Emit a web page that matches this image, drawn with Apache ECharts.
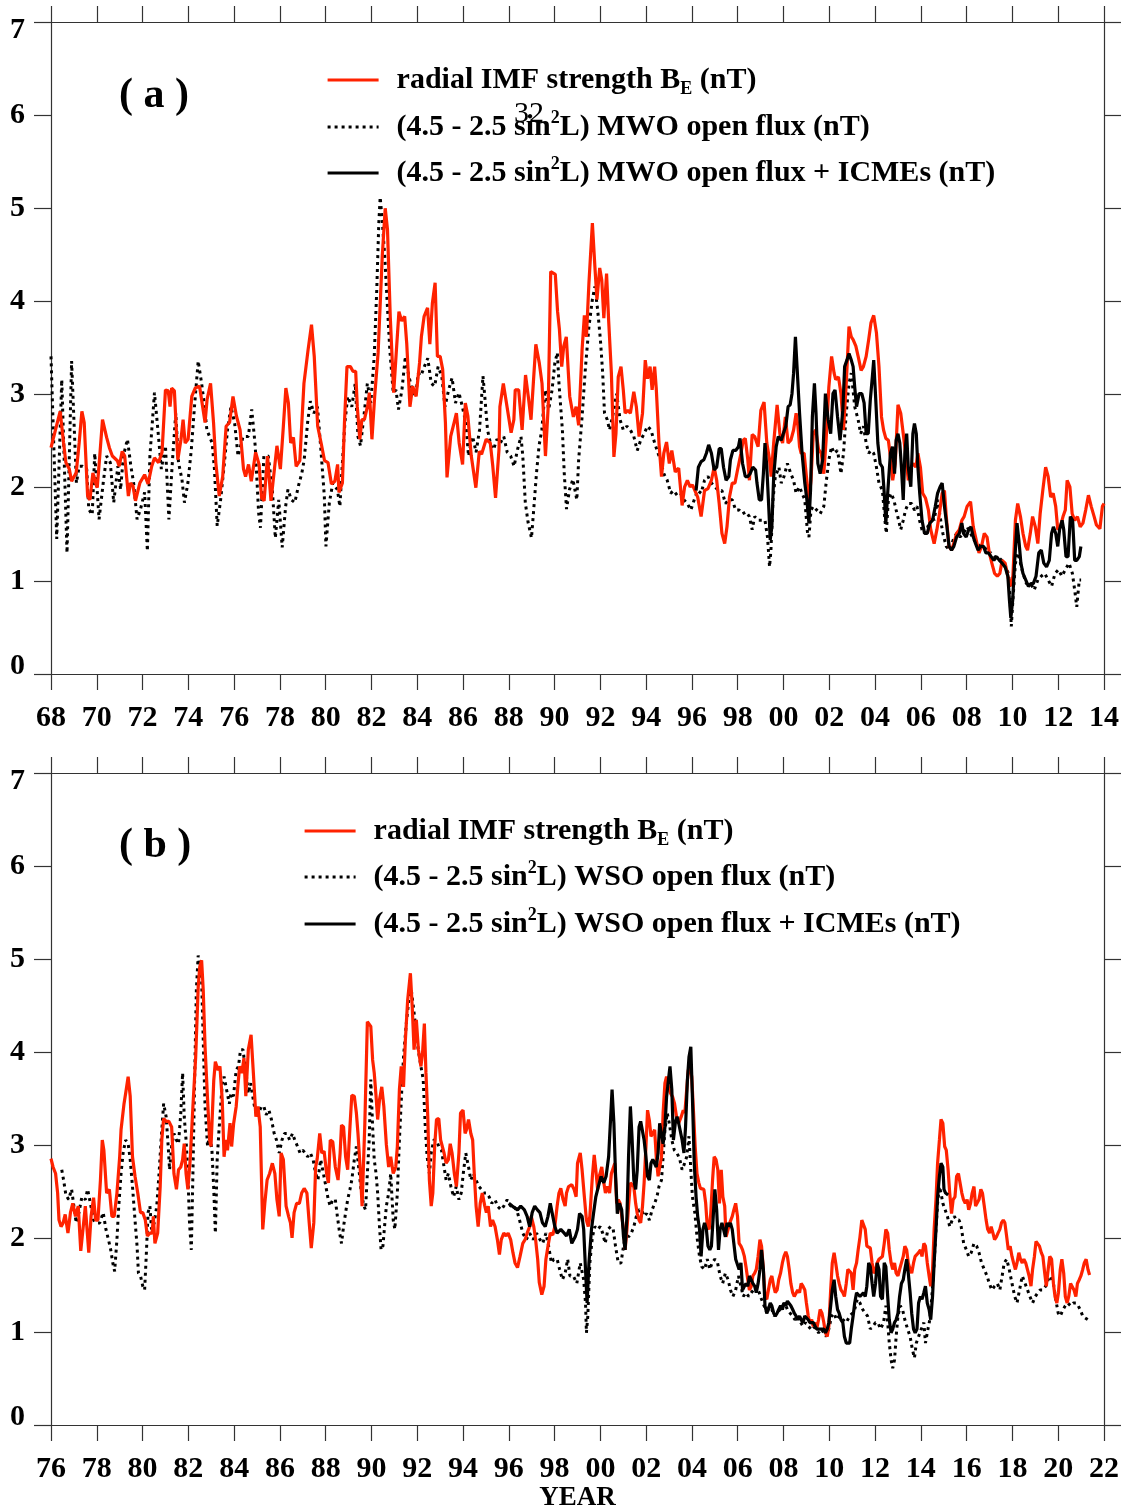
<!DOCTYPE html>
<html><head><meta charset="utf-8">
<script src="https://cdn.jsdelivr.net/npm/echarts@6/dist/echarts.min.js"></script>
<style>html,body{margin:0;padding:0;background:#fff}#c{width:1127px;height:1510px}</style>
</head><body><div id="c"></div>
<script>
// ---------- tick labels ----------
const yTickValues = [0, 1, 2, 3, 4, 5, 6, 7];
const xLabelsA = ['68','70','72','74','76','78','80','82','84','86','88','90','92','94','96','98','00','02','04','06','08','10','12','14'];
const xLabelsB = ['76','78','80','82','84','86','88','90','92','94','96','98','00','02','04','06','08','10','12','14','16','18','20','22'];

// ---------- series names ----------
const nameRed  = 'radial IMF strength BE (nT)';
const nameMwo  = '(4.5 - 2.5 sin2L) MWO open flux (nT)';
const nameMwoI = '(4.5 - 2.5 sin2L) MWO open flux + ICMEs (nT)';
const nameWso  = '(4.5 - 2.5 sin2L) WSO open flux (nT)';
const nameWsoI = '(4.5 - 2.5 sin2L) WSO open flux + ICMEs (nT)';

// ---------- panel (a) data: [year, nT] ----------
const aRed = [[1968.0,2.43],[1968.4,2.82],[1968.55,2.48],[1968.65,2.27],[1968.8,2.2],[1968.9,2.07],[1969.1,2.16],[1969.23,2.48],[1969.35,2.82],[1969.45,2.7],[1969.6,1.91],[1969.7,1.87],[1969.83,2.16],[1969.95,2.05],[1970.02,2.0],[1970.13,2.34],[1970.25,2.73],[1970.43,2.54],[1970.55,2.43],[1970.68,2.34],[1970.9,2.29],[1970.98,2.23],[1971.11,2.39],[1971.22,2.34],[1971.38,1.91],[1971.47,2.05],[1971.58,2.02],[1971.69,1.86],[1971.88,2.05],[1972.09,2.14],[1972.24,2.04],[1972.4,2.23],[1972.52,2.32],[1972.7,2.27],[1972.85,2.38],[1973.0,3.05],[1973.12,3.04],[1973.2,2.87],[1973.27,3.07],[1973.39,3.04],[1973.54,2.3],[1973.68,2.52],[1973.77,2.73],[1973.86,2.48],[1973.99,2.52],[1974.15,2.98],[1974.3,3.07],[1974.49,3.09],[1974.6,2.91],[1974.73,2.7],[1974.82,2.95],[1974.97,3.12],[1975.1,2.7],[1975.2,2.27],[1975.35,1.91],[1975.5,2.12],[1975.65,2.66],[1975.8,2.7],[1975.95,2.98],[1976.1,2.77],[1976.26,2.62],[1976.41,2.2],[1976.5,2.12],[1976.63,2.25],[1976.75,2.07],[1976.94,2.38],[1977.09,2.25],[1977.2,1.89],[1977.31,1.86],[1977.46,2.34],[1977.61,1.86],[1977.76,2.2],[1977.87,2.45],[1978.02,2.2],[1978.14,2.62],[1978.26,3.07],[1978.37,2.91],[1978.47,2.48],[1978.59,2.54],[1978.71,2.23],[1978.87,2.29],[1979.05,3.12],[1979.23,3.48],[1979.38,3.75],[1979.5,3.41],[1979.65,2.66],[1979.8,2.48],[1979.95,2.29],[1980.1,2.27],[1980.25,2.04],[1980.4,2.07],[1980.52,2.25],[1980.58,1.95],[1980.73,2.05],[1980.82,2.7],[1980.93,3.3],[1981.08,3.3],[1981.19,3.25],[1981.31,3.25],[1981.38,2.87],[1981.49,2.52],[1981.58,2.73],[1981.69,2.73],[1981.84,2.89],[1981.91,3.02],[1982.02,2.52],[1982.14,2.98],[1982.29,3.45],[1982.47,4.48],[1982.6,5.0],[1982.7,4.77],[1982.82,3.84],[1982.97,3.02],[1983.09,3.48],[1983.2,3.89],[1983.32,3.79],[1983.45,3.84],[1983.54,3.55],[1983.68,2.87],[1983.8,3.09],[1983.95,2.98],[1984.1,3.34],[1984.18,3.62],[1984.3,3.84],[1984.45,3.93],[1984.55,3.54],[1984.66,3.98],[1984.78,4.2],[1984.88,3.41],[1985.0,3.41],[1985.11,3.27],[1985.23,2.7],[1985.3,2.11],[1985.46,2.55],[1985.61,2.7],[1985.71,2.8],[1985.83,2.48],[1985.98,2.25],[1986.1,2.91],[1986.21,2.77],[1986.36,2.34],[1986.56,2.0],[1986.71,2.39],[1986.81,2.36],[1987.01,2.52],[1987.19,2.48],[1987.3,2.23],[1987.42,1.89],[1987.57,2.41],[1987.61,2.87],[1987.76,3.12],[1987.87,2.95],[1987.94,2.95],[1988.1,2.59],[1988.22,2.73],[1988.28,3.05],[1988.43,3.05],[1988.58,2.62],[1988.73,3.21],[1988.85,2.98],[1988.97,2.73],[1989.08,3.16],[1989.18,3.54],[1989.33,3.34],[1989.45,3.12],[1989.6,2.34],[1989.72,2.87],[1989.83,4.32],[1990.03,4.29],[1990.13,3.89],[1990.21,3.7],[1990.31,3.3],[1990.4,3.52],[1990.51,3.62],[1990.66,2.98],[1990.82,2.76],[1990.94,2.87],[1991.05,2.67],[1991.2,3.48],[1991.3,3.85],[1991.39,3.62],[1991.5,4.2],[1991.65,4.84],[1991.76,4.37],[1991.85,4.02],[1991.97,4.36],[1992.06,4.23],[1992.15,3.82],[1992.27,4.3],[1992.36,3.8],[1992.48,3.23],[1992.59,2.33],[1992.68,2.58],[1992.78,3.19],[1992.9,3.3],[1993.0,3.05],[1993.08,2.8],[1993.2,2.83],[1993.31,2.8],[1993.46,3.03],[1993.57,2.87],[1993.69,2.55],[1993.84,2.8],[1993.96,3.37],[1994.06,3.17],[1994.17,3.3],[1994.26,3.05],[1994.37,3.3],[1994.44,3.07],[1994.56,2.48],[1994.67,2.12],[1994.77,2.37],[1994.89,2.49],[1995.01,2.26],[1995.12,2.4],[1995.27,2.17],[1995.42,2.21],[1995.57,1.81],[1995.68,2.01],[1995.8,2.08],[1995.92,2.01],[1996.02,2.03],[1996.13,1.97],[1996.25,1.9],[1996.4,1.69],[1996.55,1.97],[1996.7,1.99],[1996.85,2.08],[1996.97,2.22],[1997.08,2.08],[1997.19,1.83],[1997.31,1.51],[1997.43,1.4],[1997.53,1.58],[1997.64,1.9],[1997.76,2.05],[1997.88,2.05],[1997.99,2.19],[1998.14,2.37],[1998.24,2.51],[1998.33,2.53],[1998.44,2.3],[1998.51,2.08],[1998.63,2.57],[1998.74,2.55],[1998.89,2.44],[1999.01,2.83],[1999.15,2.92],[1999.27,2.48],[1999.39,2.3],[1999.46,2.12],[1999.57,2.48],[1999.72,2.89],[1999.84,2.58],[1999.96,2.48],[2000.08,2.76],[2000.2,2.48],[2000.32,2.51],[2000.44,2.62],[2000.55,2.8],[2000.63,2.66],[2000.7,2.44],[2000.77,2.37],[2000.9,2.37],[2001.0,2.12],[2001.11,1.87],[2001.2,2.08],[2001.3,2.58],[2001.41,2.62],[2001.53,2.41],[2001.65,2.37],[2001.76,2.15],[2001.86,2.51],[2001.98,3.08],[2002.1,3.41],[2002.21,3.23],[2002.28,3.16],[2002.4,3.19],[2002.51,3.01],[2002.62,2.62],[2002.74,3.12],[2002.86,3.73],[2002.96,3.62],[2003.04,3.59],[2003.16,3.52],[2003.26,3.41],[2003.39,3.26],[2003.49,3.3],[2003.61,3.41],[2003.72,3.59],[2003.82,3.77],[2003.94,3.85],[2004.06,3.66],[2004.17,3.3],[2004.28,2.76],[2004.37,2.62],[2004.47,2.53],[2004.58,2.51],[2004.67,2.33],[2004.77,2.08],[2004.88,2.26],[2005.0,2.89],[2005.12,2.8],[2005.23,2.58],[2005.33,2.37],[2005.45,2.08],[2005.57,2.22],[2005.68,2.26],[2005.78,2.22],[2005.87,2.37],[2005.98,2.22],[2006.08,1.94],[2006.2,1.89],[2006.33,1.76],[2006.43,1.55],[2006.58,1.4],[2006.7,1.55],[2006.81,1.72],[2006.93,1.94],[2007.03,1.97],[2007.11,1.69],[2007.23,1.37],[2007.34,1.33],[2007.44,1.4],[2007.56,1.51],[2007.68,1.55],[2007.79,1.65],[2007.89,1.69],[2008.02,1.8],[2008.17,1.85],[2008.29,1.58],[2008.39,1.47],[2008.54,1.3],[2008.65,1.37],[2008.77,1.51],[2008.89,1.47],[2008.99,1.3],[2009.1,1.19],[2009.22,1.08],[2009.34,1.05],[2009.45,1.08],[2009.55,1.22],[2009.68,1.19],[2009.8,1.05],[2009.9,0.94],[2010.02,1.05],[2010.13,1.65],[2010.23,1.83],[2010.35,1.69],[2010.46,1.51],[2010.58,1.37],[2010.66,1.33],[2010.78,1.51],[2010.88,1.69],[2011.0,1.58],[2011.11,1.4],[2011.21,1.72],[2011.33,1.98],[2011.45,2.22],[2011.56,2.12],[2011.67,1.9],[2011.78,1.94],[2011.89,1.8],[2011.98,1.55],[2012.09,1.58],[2012.21,1.69],[2012.31,1.76],[2012.39,2.08],[2012.51,2.01],[2012.61,1.72],[2012.72,1.65],[2012.84,1.69],[2012.96,1.58],[2013.08,1.62],[2013.2,1.76],[2013.32,1.92],[2013.44,1.8],[2013.57,1.69],[2013.67,1.6],[2013.82,1.56],[2013.93,1.8],[2014.0,1.83]];

const aMwo = [[1968.0,3.41],[1968.25,1.45],[1968.47,3.16],[1968.7,1.3],[1968.9,3.36],[1969.11,2.05],[1969.23,2.23],[1969.38,2.23],[1969.56,2.2],[1969.65,1.77],[1969.8,1.71],[1969.91,2.37],[1970.1,1.66],[1970.28,2.05],[1970.43,2.34],[1970.59,2.27],[1970.74,1.84],[1970.92,2.23],[1971.04,1.98],[1971.16,2.34],[1971.34,2.52],[1971.49,2.23],[1971.61,2.05],[1971.76,1.66],[1971.91,1.77],[1972.09,1.95],[1972.21,1.32],[1972.32,2.34],[1972.52,3.02],[1972.67,2.62],[1972.82,2.2],[1973.0,2.45],[1973.15,1.66],[1973.3,2.27],[1973.45,2.8],[1973.57,2.27],[1973.72,2.09],[1973.83,1.84],[1973.98,2.05],[1974.13,2.41],[1974.28,2.91],[1974.43,3.36],[1974.58,3.12],[1974.69,2.91],[1974.81,2.62],[1975.04,2.48],[1975.14,2.2],[1975.26,1.59],[1975.41,1.87],[1975.56,2.23],[1975.71,2.62],[1975.86,2.87],[1976.02,2.7],[1976.17,2.34],[1976.39,2.55],[1976.62,2.55],[1976.77,2.84],[1976.92,2.45],[1977.07,1.73],[1977.15,1.57],[1977.3,2.34],[1977.49,2.34],[1977.67,1.98],[1977.8,1.46],[1977.95,1.87],[1978.1,1.36],[1978.25,1.8],[1978.35,1.98],[1978.5,1.87],[1978.65,1.84],[1978.81,2.02],[1978.96,2.16],[1979.06,2.3],[1979.21,2.7],[1979.33,2.93],[1979.48,2.8],[1979.64,2.87],[1979.79,2.41],[1979.94,1.91],[1980.01,1.37],[1980.16,1.84],[1980.31,2.05],[1980.51,1.98],[1980.62,1.8],[1980.72,2.23],[1980.84,2.7],[1980.96,2.98],[1981.14,2.87],[1981.29,3.12],[1981.41,2.55],[1981.52,2.45],[1981.67,2.77],[1981.82,3.12],[1981.97,2.91],[1982.12,3.41],[1982.23,4.12],[1982.32,4.84],[1982.38,5.12],[1982.47,4.87],[1982.58,4.48],[1982.68,4.02],[1982.8,3.48],[1982.95,3.02],[1983.07,3.05],[1983.18,2.84],[1983.33,3.05],[1983.48,3.41],[1983.63,3.2],[1983.78,3.05],[1983.93,2.98],[1984.04,3.23],[1984.16,3.2],[1984.31,3.3],[1984.46,3.39],[1984.61,3.12],[1984.76,3.09],[1984.91,3.3],[1985.07,3.2],[1985.21,2.87],[1985.37,3.05],[1985.52,3.18],[1985.67,2.91],[1985.82,3.02],[1985.97,2.87],[1986.12,2.7],[1986.24,2.34],[1986.35,2.48],[1986.42,2.55],[1986.57,2.38],[1986.72,2.62],[1986.87,3.2],[1986.95,2.98],[1987.07,2.62],[1987.22,2.45],[1987.33,2.41],[1987.48,2.52],[1987.63,2.48],[1987.78,2.55],[1987.93,2.38],[1988.08,2.34],[1988.23,2.23],[1988.38,2.41],[1988.53,2.55],[1988.61,2.34],[1988.72,1.84],[1988.84,1.63],[1988.99,1.46],[1989.11,1.84],[1989.21,2.16],[1989.32,2.45],[1989.44,2.62],[1989.59,3.05],[1989.74,2.84],[1989.89,3.05],[1990.01,3.34],[1990.12,3.45],[1990.19,3.12],[1990.34,2.62],[1990.42,2.16],[1990.52,1.77],[1990.65,1.98],[1990.8,2.09],[1990.97,1.87],[1991.05,2.3],[1991.2,2.76],[1991.35,3.3],[1991.5,3.73],[1991.65,4.02],[1991.76,4.16],[1991.88,3.91],[1992.0,3.59],[1992.1,3.23],[1992.18,2.8],[1992.3,2.73],[1992.4,2.62],[1992.56,2.8],[1992.71,3.01],[1992.86,2.73],[1993.0,2.62],[1993.16,2.66],[1993.31,2.62],[1993.46,2.55],[1993.61,2.4],[1993.76,2.51],[1993.91,2.58],[1994.06,2.66],[1994.21,2.62],[1994.37,2.48],[1994.52,2.37],[1994.62,2.3],[1994.77,2.15],[1994.92,2.08],[1995.07,1.94],[1995.2,1.97],[1995.35,1.92],[1995.5,1.94],[1995.65,1.87],[1995.8,1.83],[1995.95,1.76],[1996.1,1.87],[1996.25,1.97],[1996.4,1.94],[1996.55,2.08],[1996.7,2.12],[1996.85,2.05],[1997.0,2.01],[1997.16,1.97],[1997.31,1.97],[1997.46,1.83],[1997.61,1.87],[1997.76,1.87],[1997.91,1.76],[1998.06,1.76],[1998.21,1.72],[1998.36,1.74],[1998.51,1.69],[1998.63,1.55],[1998.74,1.69],[1998.89,1.65],[1999.04,1.65],[1999.19,1.65],[1999.3,1.47],[1999.39,1.15],[1999.45,1.33],[1999.54,1.87],[1999.64,2.12],[1999.8,2.22],[1999.9,2.05],[2000.02,2.12],[2000.17,2.26],[2000.32,2.15],[2000.44,2.08],[2000.55,1.94],[2000.7,2.01],[2000.81,1.94],[2000.93,1.87],[2001.05,1.51],[2001.11,1.47],[2001.2,1.76],[2001.3,1.8],[2001.45,1.76],[2001.6,1.72],[2001.76,1.8],[2001.86,2.05],[2001.98,2.3],[2002.1,2.44],[2002.21,2.37],[2002.36,2.4],[2002.51,2.15],[2002.62,2.37],[2002.74,2.8],[2002.86,3.12],[2002.96,3.23],[2003.11,2.87],[2003.26,2.73],[2003.37,2.58],[2003.49,2.66],[2003.61,2.48],[2003.72,2.37],[2003.82,2.4],[2003.94,2.37],[2004.06,2.22],[2004.17,2.05],[2004.32,1.97],[2004.43,1.65],[2004.49,1.51],[2004.58,1.87],[2004.7,1.94],[2004.82,1.87],[2004.92,1.76],[2005.03,1.65],[2005.12,1.55],[2005.23,1.65],[2005.33,1.76],[2005.45,1.83],[2005.6,1.83],[2005.72,1.76],[2005.83,1.8],[2005.94,1.65],[2006.05,1.55],[2006.2,1.51],[2006.36,1.62],[2006.48,1.69],[2006.58,1.65],[2006.73,1.87],[2006.84,1.69],[2006.96,1.51],[2007.11,1.37],[2007.26,1.33],[2007.41,1.44],[2007.56,1.51],[2007.71,1.47],[2007.86,1.51],[2008.02,1.58],[2008.17,1.51],[2008.32,1.44],[2008.47,1.4],[2008.62,1.37],[2008.77,1.37],[2008.92,1.3],[2009.07,1.3],[2009.22,1.26],[2009.37,1.26],[2009.53,1.22],[2009.68,1.15],[2009.83,1.08],[2009.9,0.79],[2009.95,0.51],[2010.02,0.79],[2010.13,1.19],[2010.24,1.3],[2010.35,1.19],[2010.46,1.08],[2010.61,0.97],[2010.8,0.97],[2010.95,0.9],[2011.11,1.01],[2011.26,1.05],[2011.41,1.08],[2011.56,1.01],[2011.71,0.94],[2011.86,1.08],[2012.01,1.12],[2012.16,1.05],[2012.31,1.12],[2012.47,1.19],[2012.62,1.08],[2012.72,0.9],[2012.81,0.72],[2012.92,1.01],[2013.0,1.01]];

const aMwoI = [[1996.18,1.97],[1996.28,2.22],[1996.4,2.28],[1996.52,2.3],[1996.63,2.37],[1996.73,2.46],[1996.85,2.37],[1996.97,2.19],[1997.08,2.22],[1997.19,2.42],[1997.28,2.42],[1997.38,2.22],[1997.49,2.08],[1997.61,2.12],[1997.68,2.3],[1997.79,2.4],[1997.91,2.4],[1998.03,2.44],[1998.1,2.53],[1998.21,2.26],[1998.33,2.12],[1998.44,2.12],[1998.54,2.15],[1998.66,2.22],[1998.78,2.19],[1998.84,2.05],[1998.94,1.87],[1999.04,1.87],[1999.12,2.15],[1999.19,2.48],[1999.27,2.22],[1999.34,1.87],[1999.42,1.44],[1999.49,1.58],[1999.57,2.12],[1999.68,2.44],[1999.77,2.55],[1999.9,2.51],[1999.99,2.58],[2000.1,2.66],[2000.2,2.87],[2000.29,2.89],[2000.37,3.01],[2000.44,3.23],[2000.52,3.62],[2000.59,3.3],[2000.7,2.8],[2000.81,2.37],[2000.93,2.05],[2001.02,1.87],[2001.11,1.62],[2001.18,1.97],[2001.26,2.76],[2001.35,3.12],[2001.42,2.8],[2001.5,2.26],[2001.6,2.15],[2001.71,2.3],[2001.83,3.01],[2001.95,2.73],[2002.06,2.58],[2002.16,3.01],[2002.25,3.05],[2002.36,2.76],[2002.47,2.51],[2002.59,2.83],[2002.67,3.3],[2002.77,3.37],[2002.86,3.44],[2002.96,3.37],[2003.04,3.3],[2003.11,3.08],[2003.19,2.87],[2003.3,3.01],[2003.42,3.01],[2003.52,2.91],[2003.61,2.58],[2003.7,2.58],[2003.79,2.94],[2003.88,3.19],[2003.94,3.37],[2004.03,2.94],[2004.12,2.48],[2004.22,2.26],[2004.32,2.22],[2004.4,1.94],[2004.47,1.62],[2004.55,1.94],[2004.67,2.37],[2004.76,2.44],[2004.85,2.15],[2004.92,2.51],[2005.0,2.58],[2005.08,2.48],[2005.15,2.22],[2005.23,1.87],[2005.3,2.37],[2005.38,2.58],[2005.45,2.22],[2005.56,2.01],[2005.65,2.58],[2005.72,2.69],[2005.8,2.58],[2005.87,2.22],[2005.95,1.94],[2006.05,1.65],[2006.16,1.51],[2006.28,1.51],[2006.39,1.62],[2006.51,1.65],[2006.63,1.8],[2006.73,1.94],[2006.84,2.01],[2006.93,2.05],[2007.03,1.8],[2007.14,1.58],[2007.23,1.37],[2007.34,1.33],[2007.44,1.37],[2007.56,1.47],[2007.68,1.51],[2007.79,1.62],[2007.86,1.51],[2007.98,1.47],[2008.09,1.55],[2008.19,1.58],[2008.29,1.47],[2008.39,1.4],[2008.5,1.33],[2008.62,1.37],[2008.74,1.37],[2008.84,1.3],[2008.95,1.3],[2009.07,1.26],[2009.19,1.22],[2009.31,1.26],[2009.43,1.22],[2009.55,1.19],[2009.68,1.15],[2009.8,1.05],[2009.87,0.79],[2009.93,0.6],[2010.01,0.79],[2010.1,1.22],[2010.2,1.62],[2010.28,1.44],[2010.37,1.19],[2010.46,1.08],[2010.58,1.01],[2010.7,0.94],[2010.8,0.97],[2010.91,0.97],[2011.03,1.05],[2011.15,1.3],[2011.26,1.33],[2011.37,1.19],[2011.49,1.15],[2011.61,1.22],[2011.71,1.51],[2011.79,1.58],[2011.89,1.51],[2011.98,1.37],[2012.06,1.55],[2012.17,1.65],[2012.24,1.55],[2012.34,1.26],[2012.43,1.26],[2012.53,1.69],[2012.63,1.65],[2012.72,1.22],[2012.81,1.22],[2012.92,1.26],[2012.99,1.37]];

// ---------- panel (b) data: [year, nT] ----------
const bRed = [[1976.0,2.86],[1976.09,2.77],[1976.2,2.7],[1976.29,2.49],[1976.35,2.2],[1976.44,2.13],[1976.53,2.17],[1976.62,2.26],[1976.74,2.06],[1976.85,2.28],[1976.95,2.38],[1977.07,2.24],[1977.19,2.35],[1977.3,1.87],[1977.37,1.87],[1977.5,2.35],[1977.57,2.35],[1977.65,1.85],[1977.75,2.24],[1977.86,2.44],[1977.95,2.2],[1978.05,2.2],[1978.16,2.63],[1978.24,3.06],[1978.31,2.95],[1978.43,2.49],[1978.55,2.53],[1978.66,2.24],[1978.76,2.24],[1978.88,2.49],[1979.0,2.88],[1979.06,3.17],[1979.19,3.45],[1979.26,3.56],[1979.37,3.74],[1979.46,3.53],[1979.56,2.88],[1979.67,2.67],[1979.79,2.49],[1979.91,2.28],[1980.01,2.28],[1980.12,2.2],[1980.21,2.03],[1980.32,2.06],[1980.42,2.06],[1980.47,2.24],[1980.54,1.95],[1980.66,2.06],[1980.77,2.56],[1980.84,3.06],[1980.92,3.29],[1981.03,3.26],[1981.15,3.26],[1981.27,3.2],[1981.37,2.7],[1981.48,2.53],[1981.57,2.74],[1981.67,2.77],[1981.75,2.85],[1981.82,3.02],[1981.9,2.7],[1981.98,2.53],[1982.08,2.85],[1982.2,3.42],[1982.32,3.95],[1982.43,4.7],[1982.5,4.92],[1982.58,4.99],[1982.65,4.67],[1982.73,4.06],[1982.84,3.49],[1982.93,3.06],[1982.99,2.99],[1983.11,3.7],[1983.18,3.9],[1983.29,3.81],[1983.38,3.85],[1983.48,3.49],[1983.56,2.88],[1983.64,3.06],[1983.71,2.95],[1983.82,3.24],[1983.89,2.99],[1983.98,3.24],[1984.09,3.42],[1984.16,3.63],[1984.24,3.85],[1984.34,3.78],[1984.43,3.94],[1984.51,3.53],[1984.62,4.03],[1984.74,4.19],[1984.84,3.78],[1984.95,3.31],[1985.04,3.42],[1985.14,3.2],[1985.25,2.1],[1985.34,2.38],[1985.44,2.63],[1985.55,2.7],[1985.67,2.81],[1985.78,2.7],[1985.87,2.42],[1985.97,2.24],[1986.05,2.92],[1986.15,2.85],[1986.27,2.35],[1986.38,2.24],[1986.46,2.17],[1986.53,2.01],[1986.62,2.28],[1986.73,2.38],[1986.85,2.38],[1986.95,2.49],[1987.06,2.54],[1987.18,2.49],[1987.28,2.17],[1987.37,1.9],[1987.48,2.17],[1987.56,2.77],[1987.63,2.86],[1987.74,3.13],[1987.83,2.92],[1987.93,2.94],[1988.04,2.7],[1988.12,2.6],[1988.2,3.06],[1988.31,3.04],[1988.42,2.77],[1988.54,2.63],[1988.63,2.92],[1988.69,3.22],[1988.78,3.2],[1988.87,2.88],[1988.96,2.74],[1989.06,3.2],[1989.14,3.54],[1989.25,3.53],[1989.34,3.35],[1989.41,3.13],[1989.52,2.7],[1989.59,2.35],[1989.71,3.24],[1989.82,4.33],[1989.97,4.28],[1990.05,3.92],[1990.12,3.78],[1990.2,3.53],[1990.27,3.28],[1990.35,3.49],[1990.45,3.63],[1990.54,3.42],[1990.65,3.01],[1990.75,2.77],[1990.84,2.88],[1990.95,2.7],[1991.06,2.77],[1991.13,2.99],[1991.22,3.6],[1991.3,3.85],[1991.4,3.63],[1991.48,4.13],[1991.58,4.56],[1991.7,4.85],[1991.78,4.49],[1991.86,4.03],[1991.96,4.35],[1992.05,4.03],[1992.16,3.85],[1992.23,3.99],[1992.31,4.31],[1992.38,3.78],[1992.46,3.31],[1992.53,2.63],[1992.61,2.35],[1992.68,2.49],[1992.76,2.99],[1992.84,3.28],[1992.94,3.29],[1993.02,3.06],[1993.09,3.06],[1993.17,2.92],[1993.26,2.81],[1993.36,2.85],[1993.44,3.02],[1993.52,2.92],[1993.62,2.7],[1993.71,2.56],[1993.82,2.92],[1993.89,3.35],[1994.0,3.38],[1994.09,3.13],[1994.15,3.17],[1994.24,3.28],[1994.34,3.13],[1994.42,3.06],[1994.49,2.7],[1994.57,2.35],[1994.66,2.13],[1994.75,2.38],[1994.84,2.49],[1994.95,2.35],[1995.02,2.28],[1995.1,2.35],[1995.2,2.13],[1995.29,2.2],[1995.4,2.13],[1995.5,1.99],[1995.59,1.83],[1995.67,1.99],[1995.78,2.06],[1995.88,2.03],[1995.97,2.06],[1996.08,1.99],[1996.18,1.85],[1996.27,1.74],[1996.38,1.69],[1996.49,1.81],[1996.61,1.95],[1996.71,1.99],[1996.8,2.06],[1996.91,2.13],[1996.98,2.24],[1997.09,2.13],[1997.17,1.99],[1997.26,1.78],[1997.33,1.53],[1997.44,1.4],[1997.54,1.49],[1997.62,1.78],[1997.71,1.92],[1997.81,2.06],[1997.92,2.04],[1998.01,2.13],[1998.11,2.35],[1998.19,2.49],[1998.27,2.54],[1998.37,2.42],[1998.46,2.35],[1998.52,2.49],[1998.61,2.56],[1998.75,2.58],[1998.85,2.53],[1998.94,2.45],[1999.0,2.81],[1999.12,2.92],[1999.2,2.74],[1999.3,2.45],[1999.39,2.2],[1999.47,2.13],[1999.54,2.24],[1999.65,2.67],[1999.73,2.9],[1999.8,2.74],[1999.88,2.53],[1999.95,2.67],[2000.06,2.77],[2000.15,2.6],[2000.22,2.49],[2000.3,2.56],[2000.4,2.49],[2000.48,2.7],[2000.56,2.7],[2000.63,2.81],[2000.71,2.38],[2000.78,2.42],[2000.86,2.38],[2000.93,2.38],[2001.01,2.1],[2001.08,1.88],[2001.16,2.1],[2001.23,2.35],[2001.31,2.6],[2001.38,2.61],[2001.46,2.56],[2001.54,2.38],[2001.61,2.27],[2001.69,2.2],[2001.76,2.17],[2001.84,2.35],[2001.91,2.6],[2001.99,2.99],[2002.06,3.38],[2002.14,3.27],[2002.21,3.1],[2002.29,3.13],[2002.37,3.17],[2002.44,2.88],[2002.52,2.67],[2002.59,2.67],[2002.67,2.88],[2002.74,3.35],[2002.82,3.67],[2002.89,3.74],[2002.97,3.63],[2003.07,3.56],[2003.16,3.52],[2003.24,3.45],[2003.35,3.27],[2003.42,3.24],[2003.53,3.31],[2003.62,3.38],[2003.69,3.35],[2003.77,3.6],[2003.84,3.81],[2003.92,3.85],[2003.99,3.74],[2004.07,3.35],[2004.14,2.99],[2004.22,2.7],[2004.3,2.6],[2004.37,2.54],[2004.45,2.53],[2004.52,2.53],[2004.6,2.38],[2004.67,2.13],[2004.75,2.1],[2004.82,2.27],[2004.9,2.63],[2004.97,2.88],[2005.05,2.85],[2005.13,2.74],[2005.2,2.38],[2005.28,2.74],[2005.35,2.45],[2005.43,2.35],[2005.49,2.02],[2005.58,2.1],[2005.65,2.17],[2005.76,2.24],[2005.83,2.31],[2005.91,2.38],[2005.99,2.24],[2006.06,1.95],[2006.14,1.92],[2006.21,1.88],[2006.29,1.81],[2006.36,1.7],[2006.44,1.56],[2006.51,1.45],[2006.59,1.49],[2006.66,1.6],[2006.74,1.63],[2006.81,1.67],[2006.89,1.81],[2006.97,1.99],[2007.04,1.92],[2007.12,1.67],[2007.19,1.38],[2007.27,1.35],[2007.34,1.45],[2007.42,1.56],[2007.49,1.6],[2007.57,1.49],[2007.64,1.42],[2007.72,1.45],[2007.79,1.56],[2007.87,1.63],[2007.95,1.74],[2008.02,1.81],[2008.1,1.86],[2008.17,1.81],[2008.25,1.67],[2008.32,1.52],[2008.4,1.42],[2008.47,1.38],[2008.55,1.38],[2008.62,1.45],[2008.7,1.42],[2008.77,1.52],[2008.85,1.49],[2008.93,1.45],[2009.0,1.31],[2009.08,1.17],[2009.15,1.1],[2009.23,1.13],[2009.3,1.06],[2009.38,1.1],[2009.45,1.03],[2009.53,1.13],[2009.6,1.24],[2009.68,1.2],[2009.76,1.1],[2009.83,0.99],[2009.91,0.95],[2009.98,1.06],[2010.06,1.45],[2010.13,1.74],[2010.21,1.85],[2010.28,1.74],[2010.36,1.6],[2010.43,1.52],[2010.51,1.45],[2010.59,1.42],[2010.66,1.38],[2010.74,1.52],[2010.81,1.67],[2010.89,1.67],[2010.96,1.63],[2011.04,1.45],[2011.11,1.67],[2011.19,1.74],[2011.26,1.88],[2011.34,2.02],[2011.42,2.2],[2011.49,2.22],[2011.57,2.1],[2011.64,1.92],[2011.72,1.92],[2011.79,1.9],[2011.87,1.74],[2011.94,1.63],[2012.02,1.67],[2012.09,1.74],[2012.17,1.78],[2012.24,1.78],[2012.32,1.81],[2012.4,1.95],[2012.47,2.1],[2012.55,2.06],[2012.62,1.88],[2012.7,1.74],[2012.77,1.67],[2012.85,1.74],[2012.92,1.63],[2013.0,1.6],[2013.07,1.67],[2013.15,1.74],[2013.23,1.81],[2013.3,1.92],[2013.38,1.88],[2013.45,1.74],[2013.53,1.67],[2013.6,1.63],[2013.68,1.74],[2013.75,1.81],[2013.83,1.81],[2013.9,1.85],[2013.98,1.88],[2014.05,1.81],[2014.13,1.95],[2014.2,1.92],[2014.28,1.74],[2014.36,1.6],[2014.43,1.49],[2014.51,1.67],[2014.58,2.1],[2014.66,2.42],[2014.73,2.81],[2014.81,3.06],[2014.88,3.28],[2014.96,3.24],[2015.04,2.99],[2015.11,2.95],[2015.19,2.74],[2015.26,2.49],[2015.34,2.27],[2015.41,2.42],[2015.49,2.45],[2015.56,2.67],[2015.64,2.7],[2015.71,2.7],[2015.79,2.49],[2015.86,2.42],[2015.94,2.38],[2016.02,2.42],[2016.09,2.31],[2016.17,2.38],[2016.24,2.49],[2016.32,2.56],[2016.39,2.35],[2016.47,2.35],[2016.54,2.42],[2016.62,2.53],[2016.69,2.49],[2016.77,2.35],[2016.85,2.2],[2016.92,2.1],[2017.0,2.06],[2017.07,2.13],[2017.15,2.06],[2017.22,1.99],[2017.3,2.02],[2017.37,2.06],[2017.45,2.1],[2017.52,2.17],[2017.6,2.2],[2017.67,2.17],[2017.75,2.02],[2017.82,1.88],[2017.9,1.92],[2017.98,1.81],[2018.05,1.74],[2018.13,1.67],[2018.2,1.74],[2018.28,1.85],[2018.35,1.78],[2018.43,1.74],[2018.5,1.78],[2018.58,1.74],[2018.66,1.74],[2018.73,1.6],[2018.81,1.49],[2018.88,1.67],[2018.96,1.81],[2019.03,1.97],[2019.11,1.95],[2019.18,1.92],[2019.26,1.85],[2019.33,1.81],[2019.41,1.63],[2019.48,1.49],[2019.56,1.67],[2019.63,1.81],[2019.71,1.78],[2019.79,1.52],[2019.86,1.38],[2019.94,1.31],[2020.01,1.42],[2020.09,1.67],[2020.16,1.78],[2020.24,1.63],[2020.31,1.38],[2020.39,1.31],[2020.46,1.38],[2020.54,1.52],[2020.61,1.52],[2020.69,1.45],[2020.77,1.38],[2020.84,1.52],[2020.92,1.56],[2020.99,1.6],[2021.07,1.67],[2021.14,1.74],[2021.22,1.78],[2021.3,1.67],[2021.37,1.61]];

const bWso = [[1976.47,2.74],[1976.55,2.63],[1976.65,2.47],[1976.77,2.42],[1976.9,2.53],[1977.0,2.35],[1977.1,2.17],[1977.22,2.28],[1977.35,2.45],[1977.5,2.42],[1977.6,2.53],[1977.72,2.38],[1977.86,2.2],[1977.98,2.17],[1978.13,2.17],[1978.28,2.28],[1978.4,2.1],[1978.51,1.99],[1978.61,1.88],[1978.7,1.74],[1978.78,1.65],[1978.88,1.99],[1978.96,2.35],[1979.06,2.7],[1979.15,2.92],[1979.26,3.06],[1979.37,3.02],[1979.46,2.85],[1979.56,2.56],[1979.67,2.2],[1979.76,1.92],[1979.82,1.63],[1979.91,1.6],[1980.01,1.49],[1980.09,1.45],[1980.16,1.81],[1980.24,2.28],[1980.32,2.35],[1980.39,2.1],[1980.51,2.17],[1980.62,2.35],[1980.72,2.7],[1980.81,3.06],[1980.92,3.45],[1981.03,3.31],[1981.12,2.99],[1981.18,2.74],[1981.27,2.99],[1981.37,3.13],[1981.48,3.06],[1981.57,3.02],[1981.67,3.35],[1981.75,3.78],[1981.82,3.31],[1981.9,3.06],[1981.98,2.7],[1982.05,2.17],[1982.13,1.88],[1982.2,2.7],[1982.28,3.78],[1982.35,4.67],[1982.43,5.04],[1982.5,5.02],[1982.58,4.78],[1982.65,4.13],[1982.73,3.42],[1982.84,2.99],[1982.93,3.13],[1983.03,2.95],[1983.11,2.53],[1983.18,2.06],[1983.26,2.85],[1983.33,3.13],[1983.41,3.42],[1983.48,3.67],[1983.56,3.74],[1983.67,3.6],[1983.79,3.45],[1983.86,3.56],[1983.97,3.53],[1984.09,3.81],[1984.19,3.85],[1984.28,4.03],[1984.39,4.03],[1984.46,3.88],[1984.54,3.74],[1984.62,3.56],[1984.72,3.67],[1984.81,3.53],[1984.89,3.42],[1985.0,3.31],[1985.07,3.35],[1985.19,3.42],[1985.3,3.42],[1985.4,3.33],[1985.52,3.38],[1985.63,3.28],[1985.75,3.13],[1985.85,3.06],[1985.97,2.92],[1986.09,3.06],[1986.2,3.13],[1986.3,3.13],[1986.43,3.06],[1986.55,3.13],[1986.65,3.06],[1986.77,2.99],[1986.88,2.92],[1987.0,2.95],[1987.1,2.92],[1987.21,2.88],[1987.33,2.92],[1987.45,2.85],[1987.56,2.7],[1987.66,2.63],[1987.78,2.85],[1987.9,2.7],[1988.01,2.56],[1988.11,2.42],[1988.2,2.35],[1988.31,2.42],[1988.42,2.42],[1988.51,2.24],[1988.61,2.06],[1988.69,1.95],[1988.78,2.13],[1988.87,2.28],[1988.96,2.42],[1989.06,2.53],[1989.14,2.63],[1989.25,2.85],[1989.34,2.99],[1989.44,2.77],[1989.56,2.49],[1989.67,2.35],[1989.74,2.31],[1989.82,2.7],[1989.9,3.06],[1989.97,3.71],[1990.05,3.2],[1990.12,2.85],[1990.2,2.7],[1990.27,2.49],[1990.35,2.13],[1990.42,1.88],[1990.5,1.92],[1990.57,2.13],[1990.65,2.35],[1990.75,2.49],[1990.84,2.7],[1990.95,2.2],[1991.02,2.1],[1991.13,2.49],[1991.22,3.06],[1991.33,3.63],[1991.4,3.95],[1991.52,4.31],[1991.63,4.56],[1991.74,4.67],[1991.83,4.49],[1991.93,4.28],[1992.04,4.03],[1992.16,3.85],[1992.26,3.71],[1992.35,3.2],[1992.43,2.88],[1992.53,2.7],[1992.61,2.92],[1992.72,3.06],[1992.84,3.06],[1992.94,2.99],[1993.06,2.95],[1993.17,2.77],[1993.26,2.63],[1993.36,2.7],[1993.47,2.56],[1993.59,2.45],[1993.7,2.56],[1993.82,2.42],[1993.92,2.49],[1994.01,2.7],[1994.12,2.92],[1994.24,2.77],[1994.34,2.63],[1994.45,2.7],[1994.57,2.63],[1994.69,2.56],[1994.8,2.53],[1994.9,2.49],[1995.02,2.49],[1995.14,2.45],[1995.25,2.38],[1995.4,2.42],[1995.5,2.35],[1995.66,2.31],[1995.78,2.35],[1995.93,2.42],[1996.08,2.35],[1996.23,2.35],[1996.38,2.28],[1996.5,2.17],[1996.61,2.06],[1996.76,1.99],[1996.91,2.06],[1997.06,1.99],[1997.21,2.06],[1997.36,1.99],[1997.48,1.95],[1997.62,2.06],[1997.74,1.92],[1997.86,1.74],[1997.96,1.78],[1998.11,1.78],[1998.22,1.67],[1998.34,1.56],[1998.46,1.63],[1998.57,1.78],[1998.67,1.6],[1998.82,1.6],[1998.97,1.52],[1999.12,1.74],[1999.27,1.56],[1999.35,1.31],[1999.39,0.99],[1999.45,1.17],[1999.54,1.74],[1999.65,2.02],[1999.76,2.13],[1999.88,2.1],[1999.99,2.13],[2000.1,2.06],[2000.21,1.95],[2000.33,2.1],[2000.45,2.13],[2000.56,2.1],[2000.66,1.92],[2000.78,1.74],[2000.9,1.74],[2001.01,1.92],[2001.11,2.06],[2001.23,2.02],[2001.35,2.06],[2001.46,2.13],[2001.57,2.24],[2001.69,2.31],[2001.81,2.31],[2001.91,2.24],[2002.02,2.27],[2002.14,2.2],[2002.26,2.31],[2002.37,2.38],[2002.47,2.45],[2002.56,2.56],[2002.67,2.63],[2002.74,2.88],[2002.82,3.17],[2002.92,3.35],[2003.01,3.24],[2003.12,3.06],[2003.23,2.95],[2003.35,2.92],[2003.47,2.85],[2003.57,2.74],[2003.68,2.81],[2003.77,2.88],[2003.87,3.1],[2003.95,2.74],[2004.02,2.45],[2004.13,2.27],[2004.22,2.02],[2004.33,1.81],[2004.43,1.7],[2004.55,1.67],[2004.67,1.78],[2004.78,1.67],[2004.88,1.74],[2005.0,1.78],[2005.12,1.74],[2005.23,1.6],[2005.34,1.52],[2005.46,1.63],[2005.58,1.56],[2005.68,1.45],[2005.79,1.38],[2005.91,1.45],[2006.03,1.6],[2006.14,1.49],[2006.24,1.38],[2006.36,1.42],[2006.48,1.38],[2006.59,1.42],[2006.69,1.45],[2006.81,1.49],[2006.94,1.42],[2007.04,1.35],[2007.15,1.28],[2007.27,1.2],[2007.39,1.28],[2007.49,1.24],[2007.6,1.17],[2007.72,1.2],[2007.84,1.24],[2007.95,1.28],[2008.05,1.31],[2008.17,1.24],[2008.29,1.2],[2008.4,1.17],[2008.5,1.13],[2008.62,1.17],[2008.75,1.1],[2008.85,1.06],[2008.96,1.1],[2009.08,1.06],[2009.2,1.03],[2009.3,1.06],[2009.41,1.03],[2009.53,0.99],[2009.65,1.03],[2009.76,0.99],[2009.86,0.95],[2009.98,1.03],[2010.1,1.17],[2010.21,1.2],[2010.31,1.13],[2010.43,1.17],[2010.59,1.13],[2010.74,1.1],[2010.89,1.17],[2011.01,1.2],[2011.11,1.24],[2011.22,1.35],[2011.34,1.31],[2011.46,1.24],[2011.57,1.2],[2011.67,1.17],[2011.79,1.03],[2011.91,1.06],[2012.02,1.1],[2012.12,1.1],[2012.24,1.03],[2012.37,1.1],[2012.47,1.28],[2012.55,1.1],[2012.62,0.88],[2012.7,0.7],[2012.77,0.61],[2012.85,0.7],[2012.92,0.95],[2013.0,1.17],[2013.1,1.28],[2013.2,1.24],[2013.3,1.13],[2013.42,1.03],[2013.53,0.95],[2013.63,0.81],[2013.72,0.72],[2013.8,0.88],[2013.9,0.95],[2014.02,1.03],[2014.13,1.1],[2014.2,0.88],[2014.31,1.03],[2014.39,1.13],[2014.48,1.38],[2014.58,1.74],[2014.66,2.1],[2014.73,2.38],[2014.81,2.56],[2014.88,2.49],[2014.96,2.38],[2015.06,2.31],[2015.16,2.24],[2015.26,2.13],[2015.37,2.2],[2015.46,2.24],[2015.56,2.2],[2015.67,2.2],[2015.76,2.13],[2015.87,1.95],[2015.99,1.88],[2016.09,1.81],[2016.2,1.85],[2016.32,1.95],[2016.44,1.92],[2016.54,1.85],[2016.65,1.74],[2016.77,1.67],[2016.89,1.6],[2016.99,1.52],[2017.1,1.45],[2017.22,1.49],[2017.34,1.52],[2017.45,1.45],[2017.55,1.6],[2017.64,1.74],[2017.75,1.78],[2017.86,1.67],[2017.98,1.52],[2018.1,1.38],[2018.2,1.31],[2018.31,1.45],[2018.43,1.6],[2018.55,1.52],[2018.66,1.45],[2018.76,1.38],[2018.88,1.31],[2019.0,1.38],[2019.11,1.42],[2019.21,1.45],[2019.33,1.45],[2019.45,1.49],[2019.56,1.56],[2019.66,1.6],[2019.79,1.52],[2019.89,1.35],[2020.0,1.2],[2020.09,1.17],[2020.21,1.24],[2020.31,1.28],[2020.42,1.31],[2020.54,1.28],[2020.66,1.31],[2020.77,1.31],[2020.87,1.28],[2020.96,1.24],[2021.07,1.17],[2021.17,1.15],[2021.3,1.13]];

const bWsoI = [[1996.0,2.38],[1996.15,2.35],[1996.38,2.31],[1996.52,2.35],[1996.68,2.31],[1996.8,2.24],[1996.91,2.13],[1997.02,2.28],[1997.13,2.35],[1997.25,2.31],[1997.36,2.28],[1997.47,2.17],[1997.59,2.13],[1997.71,2.24],[1997.81,2.38],[1997.89,2.28],[1998.01,2.13],[1998.11,2.06],[1998.27,2.1],[1998.42,2.06],[1998.52,2.03],[1998.64,2.1],[1998.75,1.95],[1998.9,2.02],[1999.0,2.1],[1999.09,2.27],[1999.2,2.24],[1999.27,2.1],[1999.35,1.67],[1999.42,1.31],[1999.5,1.74],[1999.61,2.1],[1999.7,2.27],[1999.8,2.45],[1999.91,2.56],[2000.03,2.67],[2000.15,2.6],[2000.25,2.67],[2000.36,2.88],[2000.45,3.31],[2000.51,3.6],[2000.59,3.24],[2000.66,2.7],[2000.74,2.27],[2000.83,2.38],[2000.93,2.31],[2001.01,2.02],[2001.08,1.88],[2001.16,2.24],[2001.23,2.88],[2001.31,3.42],[2001.38,3.1],[2001.46,2.63],[2001.54,2.53],[2001.61,2.74],[2001.69,3.2],[2001.76,3.26],[2001.84,3.27],[2001.91,3.06],[2001.99,2.88],[2002.06,2.67],[2002.14,2.63],[2002.21,2.81],[2002.29,2.85],[2002.37,2.85],[2002.44,2.77],[2002.52,2.92],[2002.59,3.24],[2002.67,3.24],[2002.74,3.02],[2002.82,3.2],[2002.89,3.52],[2002.97,3.7],[2003.04,3.85],[2003.12,3.6],[2003.19,3.06],[2003.27,3.24],[2003.35,3.31],[2003.42,3.24],[2003.5,3.24],[2003.57,3.06],[2003.65,2.92],[2003.72,3.2],[2003.8,3.7],[2003.87,3.95],[2003.95,4.06],[2004.02,3.52],[2004.1,2.81],[2004.18,2.45],[2004.25,2.24],[2004.33,2.1],[2004.4,1.81],[2004.48,2.1],[2004.55,2.17],[2004.63,2.1],[2004.7,1.92],[2004.78,1.88],[2004.85,1.92],[2004.93,2.24],[2005.0,2.53],[2005.08,2.31],[2005.16,1.88],[2005.23,2.1],[2005.31,2.17],[2005.38,2.1],[2005.46,2.02],[2005.53,2.17],[2005.61,2.13],[2005.68,2.17],[2005.76,2.1],[2005.83,1.95],[2005.91,1.78],[2005.98,1.78],[2006.06,1.67],[2006.14,1.74],[2006.21,1.45],[2006.29,1.49],[2006.36,1.52],[2006.44,1.49],[2006.51,1.6],[2006.59,1.56],[2006.66,1.52],[2006.74,1.49],[2006.81,1.42],[2006.89,1.52],[2006.97,1.67],[2007.04,1.88],[2007.12,1.67],[2007.19,1.28],[2007.27,1.2],[2007.34,1.24],[2007.42,1.31],[2007.49,1.28],[2007.57,1.2],[2007.64,1.17],[2007.72,1.2],[2007.79,1.24],[2007.87,1.28],[2007.95,1.24],[2008.02,1.31],[2008.1,1.28],[2008.17,1.33],[2008.25,1.31],[2008.32,1.28],[2008.4,1.24],[2008.47,1.2],[2008.55,1.17],[2008.62,1.13],[2008.7,1.17],[2008.77,1.13],[2008.85,1.1],[2008.93,1.17],[2009.0,1.17],[2009.08,1.13],[2009.15,1.1],[2009.23,1.11],[2009.3,1.1],[2009.38,1.06],[2009.45,1.03],[2009.53,1.04],[2009.6,1.03],[2009.68,1.01],[2009.76,1.03],[2009.83,0.99],[2009.91,1.03],[2009.98,1.1],[2010.06,1.28],[2010.13,1.45],[2010.21,1.56],[2010.28,1.38],[2010.36,1.24],[2010.43,1.2],[2010.51,1.13],[2010.59,1.1],[2010.66,0.95],[2010.74,0.88],[2010.81,0.86],[2010.89,0.88],[2010.96,1.03],[2011.04,1.17],[2011.11,1.31],[2011.19,1.42],[2011.26,1.4],[2011.34,1.38],[2011.42,1.38],[2011.49,1.42],[2011.57,1.38],[2011.64,1.49],[2011.72,1.74],[2011.79,1.7],[2011.87,1.52],[2011.94,1.38],[2012.02,1.52],[2012.09,1.74],[2012.17,1.67],[2012.24,1.38],[2012.32,1.35],[2012.4,1.74],[2012.47,1.7],[2012.55,1.38],[2012.62,1.13],[2012.7,0.99],[2012.77,1.03],[2012.85,1.1],[2012.92,1.13],[2013.0,1.2],[2013.07,1.38],[2013.15,1.52],[2013.23,1.56],[2013.3,1.67],[2013.38,1.78],[2013.45,1.63],[2013.53,1.42],[2013.6,1.2],[2013.68,1.03],[2013.75,0.99],[2013.83,1.03],[2013.9,1.31],[2013.98,1.38],[2014.05,1.35],[2014.13,1.42],[2014.2,1.49],[2014.28,1.31],[2014.36,1.24],[2014.43,1.13],[2014.51,1.38],[2014.58,1.74],[2014.66,2.1],[2014.73,2.45],[2014.81,2.67],[2014.88,2.81],[2014.96,2.77],[2015.01,2.53],[2015.08,2.49],[2015.19,2.47]];

// ---------- styling ----------
const FONT = '"Liberation Serif", "Times New Roman", serif';
const RED = '#ff2200';
const AX = '#333';

const legendText = {};
legendText[nameRed]  = '{sp| }{t|radial IMF strength B}{sub|E}{t| (nT)}';
legendText[nameMwo]  = '{sp| }{t|(4.5 - 2.5 sin}{sup|2}{t|L) MWO open flux (nT)}';
legendText[nameMwoI] = '{sp| }{t|(4.5 - 2.5 sin}{sup|2}{t|L) MWO open flux + ICMEs (nT)}';
legendText[nameWso]  = '{sp| }{t|(4.5 - 2.5 sin}{sup|2}{t|L) WSO open flux (nT)}';
legendText[nameWsoI] = '{sp| }{t|(4.5 - 2.5 sin}{sup|2}{t|L) WSO open flux + ICMEs (nT)}';

const LH = 36;
const richLegend = {
  sp:  { width: 13, fontSize: 30, lineHeight: LH },
  t:   { fontFamily: FONT, fontWeight: 'bold', fontSize: 30, lineHeight: LH, color: '#000' },
  sub: { fontFamily: FONT, fontWeight: 'bold', fontSize: 18, lineHeight: 17, verticalAlign: 'bottom', color: '#000' },
  sup: { fontFamily: FONT, fontWeight: 'bold', fontSize: 18, lineHeight: 23, verticalAlign: 'top', color: '#000' }
};

function mkLegend(name, left, cy) {
  return {
    left: left, top: cy - LH / 2, padding: 0, itemWidth: 51, itemHeight: LH,
    selectedMode: false, data: [name],
    formatter: n => legendText[n],
    lineStyle: { width: 3.2 },
    itemStyle: { color: 'rgba(0,0,0,0)', borderWidth: 0, opacity: 0 },
    textStyle: { fontFamily: FONT, fontWeight: 'bold', fontSize: 30, lineHeight: LH, color: '#000', rich: richLegend }
  };
}

const yLabelRich = {
  n:  { fontFamily: FONT, fontWeight: 'bold', fontSize: 30, color: '#000' },
  lo: { fontFamily: FONT, fontWeight: 'bold', fontSize: 30, color: '#000', padding: [16, 0, 0, 0] },
  hi: { fontFamily: FONT, fontWeight: 'bold', fontSize: 30, color: '#000', padding: [0, 0, 16, 0] }
};

function xAxisPair(grid, min, max, labels, withName) {
  const base = {
    gridIndex: grid, type: 'value', min: min, max: max, interval: 2,
    axisLine: { show: true, onZero: false, lineStyle: { color: AX, width: 1.2 } },
    axisTick: { show: true, inside: false, length: 16, lineStyle: { color: AX, width: 1.2 } },
    splitLine: { show: false }
  };
  const bottom = Object.assign({}, base, {
    position: 'bottom',
    axisLabel: { show: true, margin: 29, fontFamily: FONT, fontWeight: 'bold', fontSize: 30, color: '#000',
      formatter: v => labels[Math.round((v - min) / 2)] },
  });
  if (withName) {
    bottom.name = 'YEAR';
    bottom.nameLocation = 'middle';
    bottom.nameGap = 60;
    bottom.nameTextStyle = { fontFamily: FONT, fontWeight: 'bold', fontSize: 27, color: '#000' };
  }
  const top = Object.assign({}, base, { position: 'top', axisLabel: { show: false } });
  return [bottom, top];
}

function yAxisPair(grid) {
  const base = {
    gridIndex: grid, type: 'value', min: 0, max: 7, interval: 1,
    axisLine: { show: true, onZero: false, lineStyle: { color: AX, width: 1.2 } },
    axisTick: { show: true, inside: false, length: 17, lineStyle: { color: AX, width: 1.2 } },
    splitLine: { show: false }
  };
  const left = Object.assign({}, base, {
    position: 'left',
    axisLabel: { show: true, margin: 26,
      formatter: v => (v === yTickValues[yTickValues.length - 1] ? '{lo|' + v + '}' : (v === yTickValues[0] ? '{hi|' + v + '}' : '{n|' + v + '}')),
      rich: yLabelRich }
  });
  const right = Object.assign({}, base, { position: 'right', axisLabel: { show: false } });
  return [left, right];
}

function lineSeries(name, data, xi, yi, kind) {
  const s = {
    name: name, type: 'line', data: data, xAxisIndex: xi, yAxisIndex: yi,
    symbol: 'none', showSymbol: false, animation: false, z: 2,
    itemStyle: { opacity: 0 },
    lineStyle: { color: '#000', width: 3.2 }
  };
  if (kind === 'red') { s.lineStyle = { color: RED, width: 3.2 }; s.z = 3; }
  if (kind === 'dot') { s.lineStyle = { color: '#000', width: 3, type: [3, 4], cap: 'butt' }; s.z = 2; }
  if (kind === 'blk') { s.lineStyle = { color: '#000', width: 3.2 }; s.z = 4; }
  return s;
}

const chart = echarts.init(document.getElementById('c'), null, { renderer: 'canvas' });
const xa = xAxisPair(0, 1968, 2014, xLabelsA, false);
const xb = xAxisPair(1, 1976, 2022, xLabelsB, true);
const ya = yAxisPair(0);
const yb = yAxisPair(1);

chart.setOption({
  backgroundColor: '#fff',
  animation: false,
  grid: [
    { left: 51, top: 22, width: 1053, height: 652, containLabel: false, outerBoundsMode: 'none' },
    { left: 51, top: 773, width: 1053, height: 652, containLabel: false, outerBoundsMode: 'none' }
  ],
  xAxis: [xa[0], xa[1], xb[0], xb[1]],
  yAxis: [ya[0], ya[1], yb[0], yb[1]],
  legend: [
    mkLegend(nameRed, 326, 80), mkLegend(nameMwo, 326, 127), mkLegend(nameMwoI, 326, 173),
    mkLegend(nameRed, 303, 831), mkLegend(nameWso, 303, 877), mkLegend(nameWsoI, 303, 924)
  ],
  graphic: [
    { type: 'text', left: 119, top: 75, style: { text: '( a )', font: 'bold 42px "Liberation Serif", serif', fill: '#000' } },
    { type: 'text', left: 119, top: 825, style: { text: '( b )', font: 'bold 42px "Liberation Serif", serif', fill: '#000' } },
    { type: 'text', left: 514, top: 99, style: { text: '32', font: 'normal 30px "Liberation Serif", serif', fill: '#000' } }
  ],
  series: [
    lineSeries(nameMwo, aMwo, 0, 0, 'dot'),
    lineSeries(nameRed, aRed, 0, 0, 'red'),
    lineSeries(nameMwoI, aMwoI, 0, 0, 'blk'),
    lineSeries(nameWso, bWso, 2, 2, 'dot'),
    lineSeries(nameRed, bRed, 2, 2, 'red'),
    lineSeries(nameWsoI, bWsoI, 2, 2, 'blk')
  ]
});
</script>
</body></html>
